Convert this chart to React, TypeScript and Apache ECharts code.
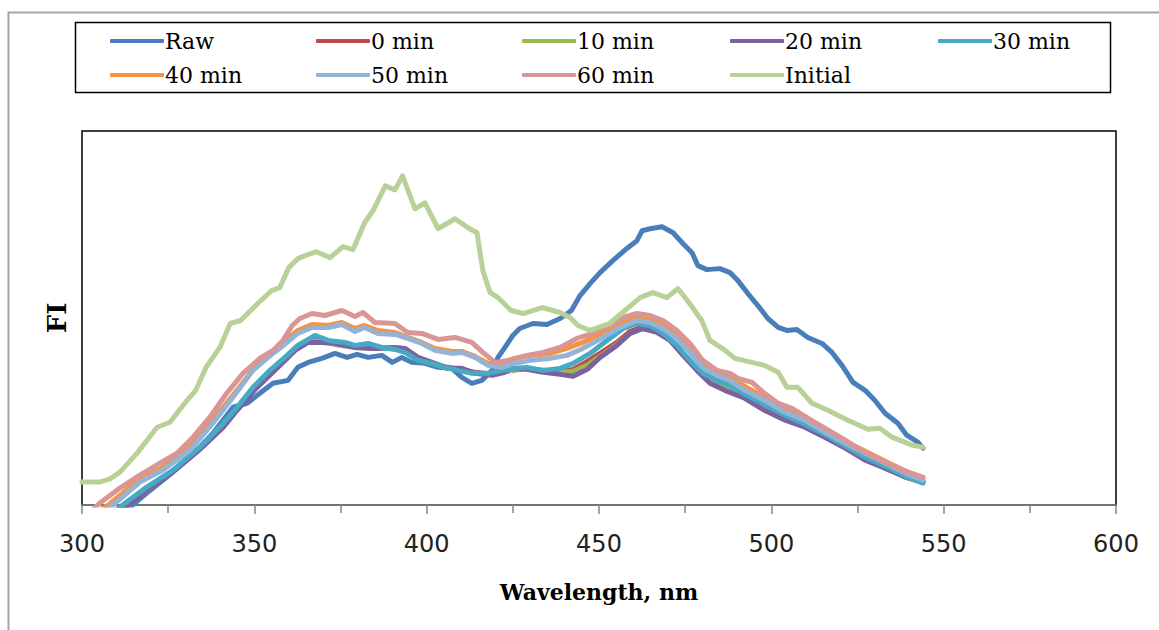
import React, { useEffect, useRef } from "react";
import * as echarts from "echarts";

const seriesNames = ["Raw", "0 min", "10 min", "20 min", "30 min", "40 min", "50 min", "60 min", "Initial"];
const seriesColors = ["#4A7EBB", "#BE4B48", "#98B954", "#7D60A0", "#46AAC5", "#F69240", "#95B3D7", "#D99694", "#B7D196"];
const xTicks = [300, 350, 400, 450, 500, 550, 600];

const raw = [[310,-12],[314,-2],[318.8,12],[324.6,28],[331.3,48],[338,72],[343.8,98],[347.9,102],[351.6,112],[355.4,122],[359.8,125],[362.6,138],[365.6,143],[369.6,147],[373.4,152],[376.9,148],[379.8,151],[383,148],[387,150],[390,143],[392.8,148],[395.7,143],[399.5,142],[403.3,138],[407.3,137],[410.2,128],[413.1,122],[416,125],[419,135],[420.7,148],[422.7,158],[425,170],[427,177],[430.8,182],[434.9,181],[438.7,187],[442,195],[444.5,210],[447.4,222],[450.3,233],[454,245],[458,257],[461,265],[462.5,275],[464.8,277],[468.3,279],[471.5,273],[474.4,262],[477,253],[478.7,240],[481.3,236],[485.1,237],[488,233],[490.3,225],[493.2,212],[496.1,200],[499,187],[502,178],[504.5,175],[507.4,176],[510.6,168],[514.7,162],[517.6,153],[520.5,140],[523.7,123],[527.2,115],[530,105],[533,92],[536.7,82],[539.3,70],[542.5,63],[544,57]];

const min0 = [[309,-7],[313,0],[319,16],[326,33],[334,56],[341,80],[345,96],[350,116],[355,133],[359.5,149],[362,157],[366,165],[369.6,166],[373.4,162],[379.2,159],[385,158],[390.8,157],[394,155],[397.5,147],[402.4,141],[406.2,138],[410.2,136],[414,133],[419,131],[423,134],[429,137],[433.8,135],[438.7,134],[442.5,136],[446.6,144],[450.3,152],[455.2,163],[459,174],[462.7,179],[466.8,175],[470.6,166],[474.4,152],[478.4,137],[482.2,125],[486.5,118],[492.3,109],[498,98],[504,87],[509.7,80],[515.5,70],[521.4,58],[527.2,47],[533,38],[538.8,29],[544,24]];

const min10 = [[309,-7],[313,0],[319,15],[326,33],[334,57],[341,79],[345,96],[350,117],[355,134],[359.5,148],[362,156],[366,164],[369.6,164],[373.4,161],[379.2,158],[385,157],[390.8,157],[394,155],[397.5,146],[402.4,141],[406.2,137],[410.2,136],[414,132],[419,131],[423,134],[429,137],[433.8,134],[438.7,133],[442.5,134],[446.6,140],[450.3,149],[455.2,161],[459,172],[462.7,177],[466.8,174],[470.6,165],[474.4,151],[478.4,136],[482.2,124],[486.5,117],[492.3,108],[498,97],[504,86],[509.7,79],[515.5,69],[521.4,58],[527.2,46],[533,37],[538.8,28],[544,23]];

const min20 = [[309,-8],[313,-1],[319,15],[326,32],[334,55],[341,78],[345,95],[350,115],[355,132],[359.5,147],[361.8,155],[365.6,163],[369.6,163],[373.4,162],[379.2,158],[385,157],[390.8,158],[393.7,157],[397.5,148],[402.4,142],[406.2,137],[410.2,137],[414,132],[419,130],[422.7,133],[424.2,137],[429,136],[433.8,133],[438.7,131],[442.5,129],[446.6,136],[450.3,148],[455.2,160],[459,172],[462.7,177],[466.8,173],[470.6,165],[474.4,150],[478.4,135],[482.2,122],[486.5,115],[492.3,107],[498,95],[504,85],[509.7,78],[515.5,68],[521.4,57],[527.2,45],[533,37],[538.8,28],[544,23]];

const min30 = [[308,-10],[311,-2],[318.8,18],[326.4,35],[334.2,58],[341,82],[345,98],[349.6,118],[354.5,135],[359.5,150],[362.6,160],[367.6,170],[371.4,165],[376.3,163],[379.2,160],[383,162],[387,158],[390.8,156],[393.7,153],[397.5,145],[401.5,142],[405.3,138],[409.1,135],[413.1,132],[417.8,132],[421.8,135],[425.6,137],[429.1,138],[433.8,135],[438.7,137],[442.5,142],[447.4,152],[452.3,165],[457,177],[461,182],[464.8,180],[468.6,172],[472.6,160],[476.4,145],[480.1,132],[484.2,125],[488,120],[492.3,111],[498,101],[504,90],[509.7,81],[515.5,71],[521.4,59],[527.2,48],[533,39],[538.8,29],[544,22]];

const min40 = [[305,-6],[308,1],[316,24],[323,37],[331,57],[338,85],[344,111],[350,137],[355.5,154],[359.5,166],[362.6,175],[366.7,181],[371.4,180],[375.4,183],[379.2,177],[382,180],[385.8,175],[390.8,173],[394.5,168],[398.6,163],[402.4,157],[407.3,154],[410.2,154],[414,149],[417.8,142],[421.8,142],[425.6,147],[430,150],[435.8,152],[440.7,157],[445.3,163],[451.1,173],[456.1,182],[461,188],[464.8,186],[468.6,180],[472.6,170],[476.4,157],[480.1,142],[484.2,134],[488,128],[492.3,119],[498,108],[504,96],[509.7,87],[515.5,76],[521.4,64],[527.2,54],[533,44],[538.8,34],[544,27]];

const min50 = [[306,-6],[309,0],[316.8,23],[323.5,35],[331.3,55],[338,82],[343.8,108],[349.6,135],[355.4,152],[359.5,163],[362.6,172],[366.7,178],[371.4,178],[375.4,181],[379.2,174],[382,178],[385.8,172],[390.8,171],[394.5,167],[398.6,162],[402.4,155],[407.3,152],[410.2,153],[414,148],[417.8,140],[421.8,138],[425.6,142],[430,145],[435.8,147],[440.7,150],[445.3,157],[451.1,168],[456.1,178],[461,185],[464.8,183],[468.6,177],[472.6,167],[476.4,153],[480.1,138],[484.2,130],[488,125],[492.3,115],[498,105],[504,93],[509.7,85],[515.5,73],[521.4,62],[527.2,52],[533,42],[538.8,32],[544,25]];

const min60 = [[303,-5],[305.2,2],[311,17],[316.8,30],[322.6,42],[327.6,52],[332.2,68],[337.1,88],[342,112],[346.7,132],[351.6,147],[355.4,155],[358.3,165],[361,180],[363.2,187],[366.7,192],[370.5,190],[375.4,195],[379.2,189],[381.5,193],[385,183],[390.8,182],[394.5,173],[398.6,172],[403.3,166],[408.2,168],[413.1,163],[416.3,153],[419.8,143],[423.6,145],[429.1,150],[433.8,153],[438.7,158],[443.6,167],[448.2,172],[453.1,180],[457,188],[461,192],[464.8,190],[468.6,185],[472.6,175],[476.4,162],[480.1,145],[484.2,135],[488,132],[490.3,127],[494.4,123],[498,112],[502,102],[506,97],[510.6,87],[515.5,77],[520.5,67],[525.1,57],[530,48],[535,40],[539.6,33],[544,28]];

const initial = [[300,23],[305,23],[308,26],[311,33],[316,52],[321.8,78],[325.5,83],[330.5,105],[333,115],[336,138],[340,158],[343,182],[346,185],[351,202],[355,215],[357.4,218],[360,238],[362.6,247],[364.7,250],[368,254],[372,248],[375.7,259],[378.6,256],[382,283],[384.4,295],[388,320],[390.8,316],[393,330],[396.6,297],[399.5,303],[403.3,277],[408.2,287],[412,278],[414.6,273],[416.3,235],[418.4,213],[420.7,208],[424.5,195],[428,192],[433.5,198],[438.7,193],[441.6,188],[443.9,180],[447.4,175],[453,182],[457.5,195],[461.9,208],[465.6,213],[469.7,208],[472.9,217],[476.3,202],[479.8,185],[482.2,165],[486.2,156],[489.4,147],[494.4,143],[498,140],[502,133],[504.5,118],[507.7,118],[511.8,102],[516.4,95],[522.2,85],[528,76],[531.5,77],[535,68],[540.8,60],[544,58]];

const seriesData = [raw, min0, min10, min20, min30, min40, min50, min60, initial];

const legendColumns = [
  ["Raw", "40 min"],
  ["0 min", "50 min"],
  ["10 min", "60 min"],
  ["20 min", "Initial"],
  ["30 min"],
];
const legendColumnX = [110, 316, 522, 730, 938];

export default function App() {
  const ref = useRef<HTMLDivElement>(null);
  useEffect(() => {
    document.body.style.margin = "0";
    if (!ref.current) return;
    const chart = echarts.init(ref.current, null, { renderer: "svg" });
    const option: any = {
      animation: false,
      backgroundColor: "#ffffff",
      graphic: [
        {
          type: "rect",
          shape: { x: 8.5, y: 12.5, width: 1300, height: 800 },
          style: { fill: "none", stroke: "#a6a6a6", lineWidth: 2 },
          silent: true,
          z: -10,
        },
        {
          type: "rect",
          shape: { x: 75.5, y: 22.5, width: 1035, height: 70 },
          style: { fill: "none", stroke: "#000", lineWidth: 1.5 },
          silent: true,
        },
      ],
      legend: legendColumns.map((col, i) => ({
        data: col,
        orient: "vertical",
        left: legendColumnX[i],
        top: 29,
        padding: 0,
        itemGap: 10,
        itemWidth: 54,
        itemHeight: 4,
        icon: "roundRect",
        textStyle: {
          fontFamily: "DejaVu Serif",
          fontSize: 22,
          lineHeight: 24,
          color: "#000",
          padding: [0, 0, 0, -4],
        },
      })),
      grid: {
        left: 82,
        right: 43,
        top: 131,
        bottom: 125,
        show: true,
        borderColor: "#000",
        borderWidth: 1.5,
        backgroundColor: "#fff",
      },
      xAxis: {
        type: "value",
        min: xTicks[0],
        max: xTicks[xTicks.length - 1],
        interval: 50,
        name: "Wavelength, nm",
        nameLocation: "middle",
        nameGap: 76,
        nameTextStyle: {
          fontFamily: "DejaVu Serif",
          fontWeight: "bold",
          fontSize: 22,
          color: "#000",
        },
        axisLine: { show: true, lineStyle: { color: "#868686", width: 1.5 } },
        axisTick: { show: true, length: 9, lineStyle: { color: "#868686", width: 1.5 } },
        minorTick: { show: true, splitNumber: 2, length: 8, lineStyle: { color: "#868686", width: 1.5 } },
        splitLine: { show: false },
        axisLabel: {
          margin: 27,
          fontFamily: "DejaVu Sans",
          fontSize: 24,
          color: "#222",
        },
      },
      yAxis: {
        type: "value",
        min: 0,
        max: 375,
        name: "FI",
        nameLocation: "middle",
        nameRotate: 90,
        nameGap: 12,
        nameTextStyle: {
          fontFamily: "DejaVu Serif",
          fontWeight: "bold",
          fontSize: 26,
          color: "#000",
        },
        axisLine: { show: false },
        axisTick: { show: false },
        axisLabel: { show: false },
        splitLine: { show: false },
      },
      series: seriesNames.map((name, i) => ({
        name,
        type: "line",
        data: seriesData[i],
        showSymbol: false,
        symbol: "none",
        clip: true,
        lineStyle: { color: seriesColors[i], width: 5, join: "round", cap: "round" },
        itemStyle: { color: seriesColors[i] },
        z: 2 + i,
      })),
    };
    chart.setOption(option);
    return () => chart.dispose();
  }, []);
  return <div ref={ref} style={{ width: 1159, height: 630 }} />;
}
